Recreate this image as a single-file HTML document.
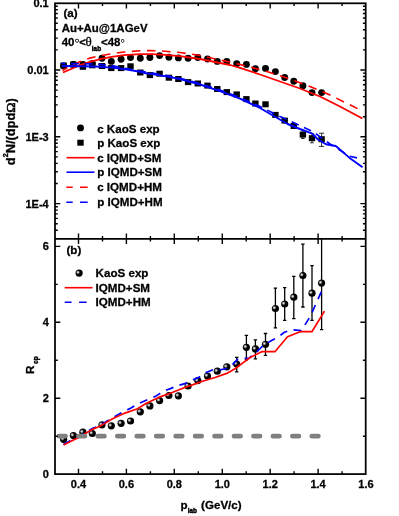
<!DOCTYPE html>
<html><head><meta charset="utf-8"><title>plot</title>
<style>html,body{margin:0;padding:0;background:#fff;}body{width:399px;height:516px;position:relative;overflow:hidden;font-family:"Liberation Sans",sans-serif;}</style></head>
<body>
<svg width="399" height="516" viewBox="0 0 399 516" style="position:absolute;left:0;top:0;will-change:transform">
<defs><radialGradient id="sph" cx="0.34" cy="0.39" r="0.5"><stop offset="0" stop-color="#eee"/><stop offset="0.24" stop-color="#b0b0b0"/><stop offset="0.5" stop-color="#1a1a1a"/><stop offset="0.66" stop-color="#000"/><stop offset="1" stop-color="#000"/></radialGradient>
<clipPath id="cb"><rect x="55.0" y="238.8" width="310.7" height="235.3"/></clipPath></defs>
<rect width="399" height="516" fill="#fff"/>
<g fill="#000">
<circle cx="63.6" cy="66" r="3.45"/>
<circle cx="73.4" cy="64.5" r="3.45"/>
<circle cx="82.9" cy="64.5" r="3.45"/>
<circle cx="92.3" cy="63.5" r="3.45"/>
<circle cx="102.0" cy="58.3" r="3.45"/>
<circle cx="111.3" cy="61.4" r="3.45"/>
<circle cx="121.1" cy="59.3" r="3.45"/>
<circle cx="130.5" cy="57.5" r="3.45"/>
<circle cx="140.3" cy="58.2" r="3.45"/>
<circle cx="149.9" cy="57.5" r="3.45"/>
<circle cx="159.6" cy="55.6" r="3.45"/>
<circle cx="168.9" cy="57.2" r="3.45"/>
<circle cx="178.4" cy="57.9" r="3.45"/>
<circle cx="188.1" cy="58.2" r="3.45"/>
<circle cx="197.8" cy="57.5" r="3.45"/>
<circle cx="207.5" cy="59" r="3.45"/>
<circle cx="217.3" cy="61.4" r="3.45"/>
<circle cx="226.8" cy="61.4" r="3.45"/>
<circle cx="236.7" cy="63.7" r="3.45"/>
<circle cx="246.4" cy="64.4" r="3.45"/>
<circle cx="255.4" cy="68.8" r="3.45"/>
<circle cx="265.5" cy="68.4" r="3.45"/>
<circle cx="275.4" cy="71.6" r="3.45"/>
<circle cx="284.7" cy="77.5" r="3.45"/>
<circle cx="293.8" cy="81.3" r="3.45"/>
<circle cx="302.9" cy="85.8" r="3.45"/>
<circle cx="312.0" cy="92.6" r="3.45"/>
<circle cx="321.6" cy="92.6" r="3.45"/>
<rect x="60.4" y="62.5" width="6.4" height="6.0"/>
<rect x="70.2" y="61.5" width="6.4" height="6.0"/>
<rect x="79.7" y="63.8" width="6.4" height="6.0"/>
<rect x="89.1" y="62.3" width="6.4" height="6.0"/>
<rect x="98.8" y="63.0" width="6.4" height="6.0"/>
<rect x="108.1" y="65.1" width="6.4" height="6.0"/>
<rect x="117.9" y="65.1" width="6.4" height="6.0"/>
<rect x="127.3" y="63.3" width="6.4" height="6.0"/>
<rect x="137.1" y="69.5" width="6.4" height="6.0"/>
<rect x="146.7" y="72.1" width="6.4" height="6.0"/>
<rect x="156.4" y="70.7" width="6.4" height="6.0"/>
<rect x="165.7" y="74.7" width="6.4" height="6.0"/>
<rect x="175.2" y="76.0" width="6.4" height="6.0"/>
<rect x="184.9" y="79.1" width="6.4" height="6.0"/>
<rect x="194.6" y="80.5" width="6.4" height="6.0"/>
<rect x="204.3" y="82.6" width="6.4" height="6.0"/>
<rect x="214.1" y="86.0" width="6.4" height="6.0"/>
<rect x="223.6" y="89.1" width="6.4" height="6.0"/>
<rect x="233.5" y="91.4" width="6.4" height="6.0"/>
<rect x="243.2" y="96.1" width="6.4" height="6.0"/>
<rect x="252.2" y="100.5" width="6.4" height="6.0"/>
<rect x="262.3" y="101.3" width="6.4" height="6.0"/>
<rect x="272.2" y="111.9" width="6.4" height="6.0"/>
<rect x="281.5" y="117.6" width="6.4" height="6.0"/>
<rect x="290.6" y="123.0" width="6.4" height="6.0"/>
<rect x="299.7" y="131.6" width="6.4" height="6.0"/>
<rect x="308.8" y="135.2" width="6.4" height="6.0"/>
<rect x="318.4" y="136.2" width="6.4" height="6.0"/>
</g>
<path d="M302.9 130.7V138.5M301.1 130.7h3.6M301.1 138.5h3.6" stroke="#000" stroke-width="0.8" fill="none"/>
<path d="M312.0 133.6V142.79999999999998M310.2 133.6h3.6M310.2 142.79999999999998h3.6" stroke="#000" stroke-width="0.8" fill="none"/>
<path d="M321.6 133.2V146.4M319.0 133.2h5.2M319.0 146.4h5.2" stroke="#000" stroke-width="0.8" fill="none"/>
<polyline points="63.0,72.5 70.0,69.5 80.0,65.2 90.0,61.8 100.0,59.2 110.0,57.2 124.0,55.2 140.0,54.2 152.0,54.1 165.0,54.8 180.0,56.2 200.0,59.0 220.0,63.0 230.0,65.0 240.0,67.8 260.0,74.5 280.0,81.5 290.0,85.0 300.0,88.5 320.0,96.5 340.0,106.5 362.4,118.5" fill="none" stroke="#f00" stroke-width="1.8" stroke-linejoin="round"/>
<polyline points="62.0,66.0 80.0,66.2 96.0,66.5 112.0,67.6 124.0,69.0 140.0,71.8 146.0,73.2 152.0,74.0 166.0,76.4 180.0,79.0 200.0,84.5 220.0,91.2 240.0,98.7 260.0,108.0 287.6,124.0 300.0,129.0 312.4,133.6 318.0,139.5 326.0,144.2 335.8,146.0 349.6,157.9 362.6,167.2" fill="none" stroke="#00f" stroke-width="1.9" stroke-linejoin="round"/>
<polyline points="62.5,70.5 70.0,66.5 80.0,61.6 90.0,58.1 100.0,55.8 110.0,54.0 124.0,52.0 140.0,50.8 150.0,50.6 160.0,50.9 180.0,52.5 200.0,55.5 220.0,60.0 230.0,62.0 250.0,67.0 270.0,72.5 290.0,79.0 310.0,86.5 330.0,95.0 357.9,108.8" fill="none" stroke="#f00" stroke-width="1.6" stroke-dasharray="8.6 6.52" stroke-dashoffset="2.94"/>
<polyline points="61.5,63.5 80.0,63.7 96.0,63.9 112.0,65.7 124.0,68.0 132.0,69.6 140.0,71.0 160.0,74.3 180.0,78.2 200.0,83.5 220.0,90.0 240.0,97.5 260.0,106.5 280.0,116.5 291.7,121.7 304.0,127.5 313.8,132.2 330.0,144.0 349.6,156.2 357.0,157.9" fill="none" stroke="#00f" stroke-width="1.6" stroke-dasharray="7.8 5.75" stroke-dashoffset="4"/>
<g clip-path="url(#cb)">
<path d="M236.7 357.3V371.8M235.0 357.3h3.4M235.0 371.8h3.4" stroke="#000" stroke-width="1.3" fill="none"/>
<path d="M246.4 335.3V359.8M244.7 335.3h3.4M244.7 359.8h3.4" stroke="#000" stroke-width="1.3" fill="none"/>
<path d="M255.4 339.8V358.9M253.7 339.8h3.4M253.7 358.9h3.4" stroke="#000" stroke-width="1.3" fill="none"/>
<path d="M265.5 333.5V355.3M263.8 333.5h3.4M263.8 355.3h3.4" stroke="#000" stroke-width="1.3" fill="none"/>
<path d="M275.4 288.1V327.9M273.7 288.1h3.4M273.7 327.9h3.4" stroke="#000" stroke-width="1.3" fill="none"/>
<path d="M284.7 287.6V320.4M283.0 287.6h3.4M283.0 320.4h3.4" stroke="#000" stroke-width="1.3" fill="none"/>
<path d="M293.8 276.3V318.6M292.1 276.3h3.4M292.1 318.6h3.4" stroke="#000" stroke-width="1.3" fill="none"/>
<path d="M302.9 244.1V307M301.2 244.1h3.4M301.2 307h3.4" stroke="#000" stroke-width="1.3" fill="none"/>
<path d="M312.0 265.7V320.4M310.3 265.7h3.4M310.3 320.4h3.4" stroke="#000" stroke-width="1.3" fill="none"/>
<path d="M321.6 236.5V329.7M319.9 236.5h3.4M319.9 329.7h3.4" stroke="#000" stroke-width="1.3" fill="none"/>
<circle cx="63.6" cy="439.3" r="3.6" fill="url(#sph)"/>
<circle cx="73.4" cy="435.6" r="3.6" fill="url(#sph)"/>
<circle cx="82.9" cy="432.2" r="3.6" fill="url(#sph)"/>
<circle cx="92.3" cy="433.5" r="3.6" fill="url(#sph)"/>
<circle cx="102.0" cy="424.8" r="3.6" fill="url(#sph)"/>
<circle cx="111.3" cy="425.8" r="3.6" fill="url(#sph)"/>
<circle cx="121.1" cy="423.3" r="3.6" fill="url(#sph)"/>
<circle cx="130.5" cy="421" r="3.6" fill="url(#sph)"/>
<circle cx="140.3" cy="411.8" r="3.6" fill="url(#sph)"/>
<circle cx="149.9" cy="405.9" r="3.6" fill="url(#sph)"/>
<circle cx="159.6" cy="400.6" r="3.6" fill="url(#sph)"/>
<circle cx="168.9" cy="395.5" r="3.6" fill="url(#sph)"/>
<circle cx="178.4" cy="395.8" r="3.6" fill="url(#sph)"/>
<circle cx="188.1" cy="386" r="3.6" fill="url(#sph)"/>
<circle cx="197.8" cy="380.6" r="3.6" fill="url(#sph)"/>
<circle cx="207.5" cy="376" r="3.6" fill="url(#sph)"/>
<circle cx="217.3" cy="371.2" r="3.6" fill="url(#sph)"/>
<circle cx="226.8" cy="366.8" r="3.6" fill="url(#sph)"/>
<circle cx="236.7" cy="364" r="3.6" fill="url(#sph)"/>
<circle cx="246.4" cy="347.3" r="3.6" fill="url(#sph)"/>
<circle cx="255.4" cy="348.9" r="3.6" fill="url(#sph)"/>
<circle cx="265.5" cy="344.3" r="3.6" fill="url(#sph)"/>
<circle cx="275.4" cy="308.5" r="3.6" fill="url(#sph)"/>
<circle cx="284.7" cy="304" r="3.6" fill="url(#sph)"/>
<circle cx="293.8" cy="297.2" r="3.6" fill="url(#sph)"/>
<circle cx="302.9" cy="275.5" r="3.6" fill="url(#sph)"/>
<circle cx="312.0" cy="293.2" r="3.6" fill="url(#sph)"/>
<circle cx="321.6" cy="283.1" r="3.6" fill="url(#sph)"/>
<polyline points="63.5,444.2 78.5,436.7 92.2,428.6 100.0,425.3 110.0,419.3 117.0,415.3 124.0,411.5 131.0,408.0 138.0,404.0 141.2,402.5 149.0,398.9 156.0,396.1 163.5,391.1 170.4,388.6 178.0,385.5 184.8,383.6 192.0,380.3 199.4,376.9 206.2,372.5 213.1,369.6 220.0,369.8 227.5,368.5 233.0,364.0 238.0,359.0 242.0,358.6 249.0,358.1 256.5,351.9 264.0,345.0 271.5,340.6 278.4,336.9 284.0,332.5 291.3,329.7 301.3,330.5 310.2,316.6 322.8,288.4" fill="none" stroke="#00f" stroke-width="1.7" stroke-dasharray="8 6.5"/>
<polyline points="63.5,445.0 78.5,437.5 92.2,429.4 100.0,426.2 112.5,418.8 125.0,413.1 137.5,408.8 146.0,403.6 158.5,397.4 171.0,393.0 183.5,388.0 196.0,383.6 202.5,381.2 215.0,377.5 227.5,373.1 235.0,368.8 240.2,364.9 250.2,357.5 262.1,351.6 274.9,351.7 287.5,336.8 300.1,331.7 311.9,331.7 324.5,311.1" fill="none" stroke="#f00" stroke-width="1.7" stroke-linejoin="round"/>
<line x1="59" y1="436.2" x2="319" y2="436.2" stroke="#808080" stroke-width="4.8" stroke-linecap="round" stroke-dasharray="6.5 12.95"/>
</g>
<g stroke="#000" fill="none">
<rect x="55.0" y="3.3" width="310.7" height="470.8" stroke-width="1.75"/>
<line x1="55.0" y1="238.8" x2="365.7" y2="238.8" stroke-width="1.75"/>
<path d="M78.5 3.3v5.3M78.5 233.5v10.6M78.5 474.1v-5.3M102.5 3.3v2.8M102.5 236.0v5.6M102.5 474.1v-2.8M126.4 3.3v5.3M126.4 233.5v10.6M126.4 474.1v-5.3M150.4 3.3v2.8M150.4 236.0v5.6M150.4 474.1v-2.8M174.3 3.3v5.3M174.3 233.5v10.6M174.3 474.1v-5.3M198.3 3.3v2.8M198.3 236.0v5.6M198.3 474.1v-2.8M222.3 3.3v5.3M222.3 233.5v10.6M222.3 474.1v-5.3M246.2 3.3v2.8M246.2 236.0v5.6M246.2 474.1v-2.8M270.2 3.3v5.3M270.2 233.5v10.6M270.2 474.1v-5.3M294.1 3.3v2.8M294.1 236.0v5.6M294.1 474.1v-2.8M318.1 3.3v5.3M318.1 233.5v10.6M318.1 474.1v-5.3M342.1 3.3v2.8M342.1 236.0v5.6M342.1 474.1v-2.8M55.0 230.2h2.8M365.7 230.2h-2.8M55.0 223.7h2.8M365.7 223.7h-2.8M55.0 218.4h2.8M365.7 218.4h-2.8M55.0 213.9h2.8M365.7 213.9h-2.8M55.0 210.1h2.8M365.7 210.1h-2.8M55.0 206.7h2.8M365.7 206.7h-2.8M55.0 203.6h5.3M365.7 203.6h-5.3M55.0 183.5h2.8M365.7 183.5h-2.8M55.0 171.7h2.8M365.7 171.7h-2.8M55.0 163.4h2.8M365.7 163.4h-2.8M55.0 156.9h2.8M365.7 156.9h-2.8M55.0 151.6h2.8M365.7 151.6h-2.8M55.0 147.1h2.8M365.7 147.1h-2.8M55.0 143.3h2.8M365.7 143.3h-2.8M55.0 139.9h2.8M365.7 139.9h-2.8M55.0 136.8h5.3M365.7 136.8h-5.3M55.0 116.7h2.8M365.7 116.7h-2.8M55.0 104.9h2.8M365.7 104.9h-2.8M55.0 96.6h2.8M365.7 96.6h-2.8M55.0 90.1h2.8M365.7 90.1h-2.8M55.0 84.8h2.8M365.7 84.8h-2.8M55.0 80.3h2.8M365.7 80.3h-2.8M55.0 76.5h2.8M365.7 76.5h-2.8M55.0 73.1h2.8M365.7 73.1h-2.8M55.0 70.0h5.3M365.7 70.0h-5.3M55.0 49.9h2.8M365.7 49.9h-2.8M55.0 38.1h2.8M365.7 38.1h-2.8M55.0 29.8h2.8M365.7 29.8h-2.8M55.0 23.3h2.8M365.7 23.3h-2.8M55.0 18.0h2.8M365.7 18.0h-2.8M55.0 13.5h2.8M365.7 13.5h-2.8M55.0 9.7h2.8M365.7 9.7h-2.8M55.0 6.3h2.8M365.7 6.3h-2.8M55.0 436.2h2.8M365.7 436.2h-2.8M55.0 398.2h5.3M365.7 398.2h-5.3M55.0 360.2h2.8M365.7 360.2h-2.8M55.0 322.3h5.3M365.7 322.3h-5.3M55.0 284.4h2.8M365.7 284.4h-2.8M55.0 246.4h5.3M365.7 246.4h-5.3" stroke-width="1.4"/>
</g>
<circle cx="80.5" cy="127.9" r="3.45"/>
<rect x="77.3" y="139.7" width="6.4" height="6.0"/>
<line x1="66.5" y1="157.7" x2="94.5" y2="157.7" stroke="#f00" stroke-width="1.6"/>
<line x1="66.5" y1="172.2" x2="94.5" y2="172.2" stroke="#00f" stroke-width="1.6"/>
<path d="M66.3 187.2H72.7M80 187.2H87.7" stroke="#f00" stroke-width="1.6"/>
<path d="M66.3 202.2H72.7M80 202.2H87.7" stroke="#00f" stroke-width="1.6"/>
<circle cx="79.1" cy="273.1" r="3.6" fill="url(#sph)"/>
<line x1="64.7" y1="287.7" x2="92.6" y2="287.7" stroke="#f00" stroke-width="1.6"/>
<path d="M64.7 302.2H71.6M79.1 302.2H86.6" stroke="#00f" stroke-width="1.6"/>
<g font-family="Liberation Sans, sans-serif" font-weight="bold" font-size="11.6" fill="#000" stroke="#000" stroke-width="0.28">
<text x="48.7" y="7.1" text-anchor="end" font-size="11">0.1</text>
<text x="48.7" y="73.9" text-anchor="end" font-size="11">0.01</text>
<text x="48.7" y="140.7" text-anchor="end" font-size="11">1E-3</text>
<text x="48.7" y="207.5" text-anchor="end" font-size="11">1E-4</text>
<text x="48.9" y="478.1" text-anchor="end" font-size="11">0</text>
<text x="48.9" y="402.2" text-anchor="end" font-size="11">2</text>
<text x="48.9" y="326.3" text-anchor="end" font-size="11">4</text>
<text x="48.9" y="250.4" text-anchor="end" font-size="11">6</text>
<text x="78.5" y="488.0" text-anchor="middle" font-size="11">0.4</text>
<text x="126.4" y="488.0" text-anchor="middle" font-size="11">0.6</text>
<text x="174.3" y="488.0" text-anchor="middle" font-size="11">0.8</text>
<text x="222.3" y="488.0" text-anchor="middle" font-size="11">1.0</text>
<text x="270.2" y="488.0" text-anchor="middle" font-size="11">1.2</text>
<text x="318.1" y="488.0" text-anchor="middle" font-size="11">1.4</text>
<text x="366.0" y="488.0" text-anchor="middle" font-size="11">1.6</text>
<text x="63.4" y="17.3" text-anchor="start" >(a)</text>
<text x="61.7" y="32.2" text-anchor="start" font-size="11.45">Au+Au@1AGeV</text>
<text x="61.7" y="45.7" font-size="11.45">40<tspan font-weight="normal" font-size="8" dy="-2.6">○</tspan><tspan dy="2.6">&lt;</tspan><tspan font-weight="normal" font-family="Liberation Serif, serif" font-size="13" dx="-0.4">θ</tspan><tspan font-size="6.4" stroke-width="0.45" dy="5.4">lab</tspan><tspan dy="-5.4">&lt;48</tspan><tspan font-weight="normal" font-size="7" dy="-3.2">○</tspan></text>
<text x="97.2" y="132.6" text-anchor="start" >c KaoS exp</text>
<text x="97.2" y="147.1" text-anchor="start" >p KaoS exp</text>
<text x="97.2" y="161.8" text-anchor="start" >c IQMD+SM</text>
<text x="97.2" y="176.3" text-anchor="start" >p IQMD+SM</text>
<text x="97.2" y="191.3" text-anchor="start" >c IQMD+HM</text>
<text x="97.2" y="206.3" text-anchor="start" >p IQMD+HM</text>
<text x="66.5" y="254.2" text-anchor="start" >(b)</text>
<text x="95.6" y="277.4" text-anchor="start" >KaoS exp</text>
<text x="95.6" y="291.8" text-anchor="start" >IQMD+SM</text>
<text x="95.6" y="306.3" text-anchor="start" >IQMD+HM</text>
<text x="180.4" y="508.5">p<tspan font-size="6.4" stroke-width="0.45" dx="0.3" dy="4">lab</tspan><tspan dy="-4" dx="0.8"> (GeV/c)</tspan></text>
<text transform="translate(15.0,165.2) rotate(-90) scale(1.107,1.04)">d<tspan font-size="6.5" stroke-width="0.4" dy="-6.8">2</tspan><tspan dy="6.8">N/(dpd</tspan><tspan font-weight="normal" font-family="Liberation Serif, serif" font-size="12.5" stroke-width="0.5">Ω</tspan>)</text>
<text transform="translate(33.6,373.9) rotate(-90)" font-size="11.7">R<tspan font-size="6.5" stroke-width="0.45" dx="1.5" dy="4.6">cp</tspan></text>
</g>
</svg>
</body></html>
